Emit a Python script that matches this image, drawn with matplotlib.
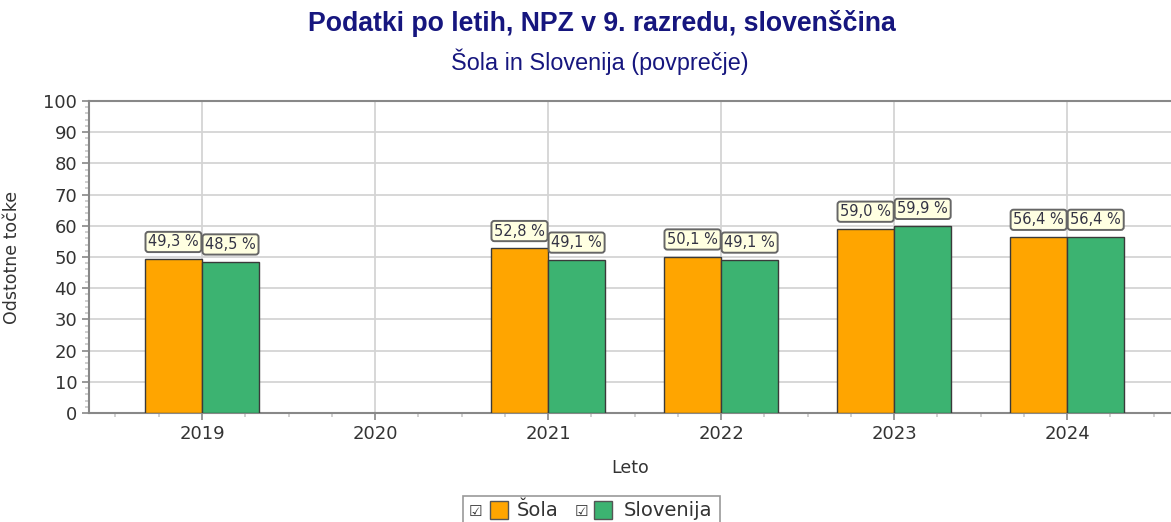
import matplotlib
matplotlib.use("Agg")
import matplotlib.pyplot as plt
import numpy as np
from matplotlib import font_manager as fm
from matplotlib.patches import Rectangle
from matplotlib.ticker import MultipleLocator

leta = ["2019", "2020", "2021", "2022", "2023", "2024"]
sola = [49.3, np.nan, 52.8, 50.1, 59.0, 56.4]
slovenija = [48.5, np.nan, 49.1, 49.1, 59.9, 56.4]

NASLOV = "Podatki po letih, NPZ v 9. razredu, slovenščina"
PODNASLOV = "Šola in Slovenija (povprečje)"
MODRA = "#16167e"
ORANZNA = "#FFA500"
ZELENA = "#3CB371"


def pisava(debela):
    """Poišče pravo (ne ozko) Liberation Sans datoteko."""
    for f in fm.fontManager.ttflist:
        if f.name == "Liberation Sans" and f.style == "normal" and (f.weight == 700) == debela:
            return fm.FontProperties(fname=f.fname)
    return fm.FontProperties(family="DejaVu Sans", weight="bold" if debela else "normal")


W, H = 1171, 522
fig = plt.figure(figsize=(W / 100, H / 100), dpi=100)
ax = fig.add_axes([89 / W, 1 - 413 / H, 1 - 89 / W, (413 - 101) / H])

x = np.arange(len(leta))
sirina = 0.33
for vrednosti, zamik, barva in [(sola, -sirina / 2, ORANZNA), (slovenija, sirina / 2, ZELENA)]:
    ax.bar(x + zamik, vrednosti, width=sirina, color=barva, edgecolor="#3a3a3a",
           linewidth=1.0, zorder=3)
    for xi, v in zip(x, vrednosti):
        if np.isnan(v):
            continue
        ax.annotate(f"{v:.1f} %".replace(".", ","), (xi + zamik, v),
                    xytext=(0, 7), textcoords="offset points", ha="center", va="bottom",
                    fontsize=10.5, color="#333344", zorder=5,
                    bbox=dict(boxstyle="round,pad=0.18,rounding_size=0.2",
                              fc="#FFFFE1", ec="#666666", lw=1.4))

ax.set_xlim(-0.653, 5.6)
ax.set_ylim(0, 100)
ax.set_xticks(x)
ax.set_xticklabels(leta)
ax.xaxis.set_minor_locator(MultipleLocator(0.25))
ax.yaxis.set_major_locator(MultipleLocator(10))
ax.yaxis.set_minor_locator(MultipleLocator(2))
ax.tick_params(axis="both", which="major", labelsize=13, colors="#888888",
               labelcolor="#333333", length=5, width=1.2)
ax.tick_params(axis="both", which="minor", colors="#c8c8c8", length=3, width=1.2)
ax.grid(which="major", color="#d4d4d4", linewidth=1.3, zorder=0)
for s in ["left", "bottom", "top"]:
    ax.spines[s].set_color("#888888")
    ax.spines[s].set_linewidth(1.5)
ax.spines["right"].set_visible(False)

ax.set_xlabel("Leto", fontsize=12.5, color="#333333", labelpad=12)
ax.set_ylabel("Odstotne točke", fontsize=12.5, color="#333333", labelpad=16)

naslov = pisava(True)
naslov.set_size(19.2)
podnaslov = pisava(False)
podnaslov.set_size(16.8)
fig.text(602 / W, 1 - 24 / H, NASLOV, ha="center", va="center", fontproperties=naslov,
         color=MODRA)
fig.text(600 / W, 1 - 62 / H, PODNASLOV, ha="center", va="center", fontproperties=podnaslov,
         color=MODRA)

# legenda s potrditvenimi polji
fig.patches.append(Rectangle((463 / W, 1 - 523 / H), (720 - 463) / W, 27 / H,
                             transform=fig.transFigure, fc="white", ec="#999999", lw=1.2))
elementi = [(469, 490, 517, ORANZNA, "Šola"), (575, 594, 624, ZELENA, "Slovenija")]
for xc, xp, xt, barva, oznaka in elementi:
    fig.text(xc / W, 1 - 511 / H, "☑", fontsize=11, va="center", ha="left", color="#333333")
    fig.patches.append(Rectangle((xp / W, 1 - 519 / H), 18 / W, 18 / H,
                                 transform=fig.transFigure, fc=barva, ec="#555555", lw=1))
    fig.text(xt / W, 1 - 511 / H, oznaka, fontsize=14, va="center", ha="left", color="#333333")

fig.savefig("out.png", dpi=100)
